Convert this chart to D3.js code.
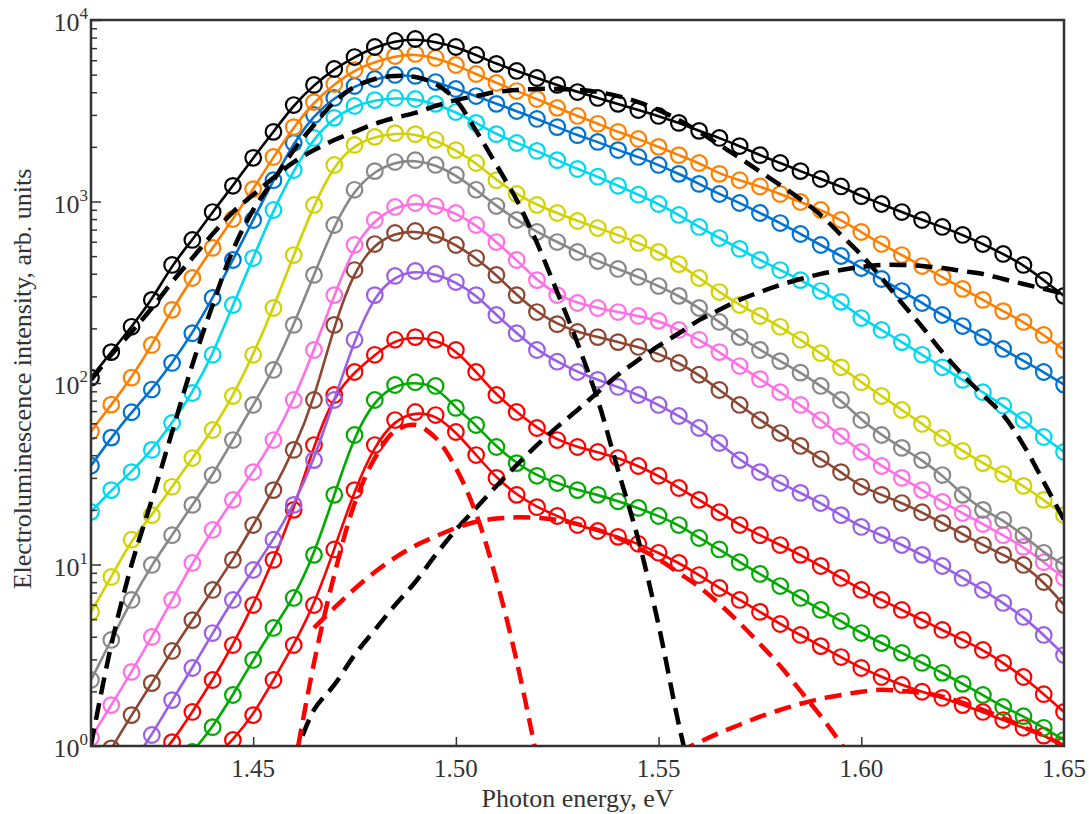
<!DOCTYPE html>
<html>
<head>
<meta charset="utf-8">
<script src="https://d3js.org/d3.v7.min.js"></script>
<style>
	body { margin: 0; background: #fff; }
	text { font-family: "Liberation Serif", "Times New Roman", serif; fill: #333; }
</style>
</head>
<body>
<svg id="chart" width="1089" height="814"></svg>
<script>
// Photon energy grid, eV
var energy = [1.410, 1.415, 1.420, 1.425, 1.430, 1.435, 1.440, 1.445, 1.450, 1.455,
	1.460, 1.465, 1.470, 1.475, 1.480, 1.485, 1.490, 1.495, 1.500, 1.505,
	1.510, 1.515, 1.520, 1.525, 1.530, 1.535, 1.540, 1.545, 1.550, 1.555,
	1.560, 1.565, 1.570, 1.575, 1.580, 1.585, 1.590, 1.595, 1.600, 1.605,
	1.610, 1.615, 1.620, 1.625, 1.630, 1.635, 1.640, 1.645, 1.650];

// Measured spectra (top to bottom)
var black = [107, 148, 204, 287, 447, 614, 875, 1220, 1740, 2420, 3400, 4390, 5370, 6250, 7100, 7660, 7860, 7570, 7100, 6420,
	5730, 5240, 4790, 4390, 4010, 3720, 3450, 3190, 2960, 2710, 2450, 2240, 2020, 1800, 1630, 1470, 1330, 1210, 1070, 969,
	875, 791, 724, 654, 583, 514, 447, 369, 302];
var orange = [54, 76, 107, 162, 253, 379, 555, 801, 1170, 1760, 2570, 3530, 4440, 5300, 5870, 6330, 6500, 6170, 5650, 5040,
	4500, 4060, 3670, 3280, 2960, 2680, 2420, 2210, 2000, 1800, 1630, 1420, 1310, 1210, 1100, 994, 898, 791, 679, 583,
	507, 441, 384, 330, 287, 249, 217, 184, 152];
var blue = [35, 50, 69, 92, 129, 188, 294, 476, 791, 1310, 2100, 3000, 3720, 4330, 4730, 4980, 4920, 4550, 4170, 3810,
	3450, 3150, 2850, 2570, 2320, 2130, 1920, 1760, 1590, 1420, 1250, 1100, 981, 864, 761, 662, 576, 501, 430, 374,
	321, 276, 237, 206, 179, 154, 132, 115, 98];
var cyan = [19.5, 25.7, 32.3, 42.8, 60.2, 88.1, 143, 269, 488, 898, 1490, 2240, 2890, 3360, 3620, 3720, 3670, 3450, 3110, 2710,
	2350, 2100, 1900, 1690, 1510, 1370, 1220, 1090, 969, 843, 724, 629, 548, 476, 419, 369, 321, 280, 228, 196,
	168, 143, 122, 104, 89, 75, 62.5, 50.4, 41.7];
var yellow = [5.48, 8.54, 13.7, 18.7, 26.8, 38.6, 55.1, 84.8, 143, 259, 507, 957, 1590, 2050, 2270, 2380, 2350, 2180, 1920, 1630,
	1310, 1100, 957, 864, 781, 714, 654, 591, 527, 452, 379, 317, 269, 234, 204, 173, 146, 122, 101, 84.8,
	71, 59.5, 49.8, 42.2, 36.2, 31.5, 27.1, 22.7, 18.7];
var gray = [2.31, 3.84, 6.38, 9.94, 14.5, 21.3, 31.1, 48.5, 75.7, 118, 209, 394, 742, 1160, 1470, 1650, 1690, 1590, 1400, 1160,
	944, 791, 679, 598, 527, 470, 425, 384, 342, 302, 259, 217, 179, 152, 132, 114, 96.3, 80.6, 62.5, 51.7,
	43.9, 37.6, 31.1, 24.2, 20, 17.6, 14.5, 11.6, 9.94];
var pink = [1.11, 1.68, 2.56, 3.99, 6.38, 10.2, 15.5, 22.7, 32.3, 48.5, 80.6, 152, 305, 576, 791, 933, 981, 944, 864, 742,
	598, 476, 369, 305, 276, 259, 246, 234, 220, 196, 173, 148, 124, 105, 89, 75.7, 62.5, 51.0, 41.7, 34.9,
	30.0, 25.7, 22.1, 19.2, 16.7, 14.5, 12.5, 10.3, 8.43];
var brown = [0.61, 0.97, 1.48, 2.22, 3.34, 4.94, 7.24, 10.6, 16.5, 25.7, 42.8, 80.6, 209, 419, 583, 671, 688, 654, 576, 488,
	394, 305, 246, 211, 191, 179, 168, 158, 145, 129, 111, 91.5, 75.7, 62.5, 53, 45, 38.1, 32.3, 26.8, 24.2,
	21.8, 19.4, 16.9, 14.7, 12.8, 11.3, 9.94, 8.01, 5.98];
var purple = [0.344, 0.537, 0.786, 1.15, 1.79, 2.69, 4.19, 6.38, 9.33, 13.7, 21.3, 37.6, 80.6, 173, 305, 389, 414, 399, 360, 305,
	237, 188, 152, 131, 115, 104, 95.1, 85.9, 75.7, 65.8, 56.5, 46.7, 37.6, 32.3, 28.1, 24.8, 21.8, 18.7, 16.1, 14.5,
	12.8, 11.3, 9.81, 8.43, 7.24, 6.14, 5.14, 4.09, 3.17];
var red1 = [0.303, 0.417, 0.573, 0.776, 1.05, 1.54, 2.31, 3.6, 5.98, 10.6, 20, 45.5, 85.9, 115, 143, 173, 179, 173, 152, 115,
	85.9, 69.2, 56.5, 48.5, 44.4, 41.7, 38.6, 34.9, 30.8, 26.4, 22.7, 19.4, 16.5, 14.5, 12.8, 11.3, 9.81, 8.43, 7.24, 6.38,
	5.62, 4.94, 4.36, 3.84, 3.38, 2.87, 2.4, 1.93, 1.54];
var green = [0.207, 0.267, 0.367, 0.504, 0.692, 0.927, 1.27, 1.91, 2.98, 4.47, 6.54, 11.3, 24.2, 51.7, 80.6, 97.5, 101, 96.3, 72.9, 58.7,
	44.4, 36.2, 30.8, 28.1, 25.7, 24.2, 22.3, 20.5, 18.5, 16.5, 14, 12.1, 10.3, 8.87, 7.61, 6.54, 5.62, 4.88, 4.19, 3.69,
	3.26, 2.87, 2.53, 2.2, 1.91, 1.64, 1.46, 1.26, 1.08];
var red2 = [0.142, 0.183, 0.235, 0.323, 0.444, 0.61, 0.837, 1.08, 1.48, 2.31, 3.6, 5.98, 12.1, 25.7, 45.5, 62.5, 69.2, 66.6, 53.7, 40.1,
	30, 24.2, 20.7, 18.5, 16.5, 15.3, 14.2, 13, 11.6, 10.2, 8.75, 7.42, 6.38, 5.48, 4.7, 4.09, 3.55, 3.09, 2.69, 2.4,
	2.17, 1.99, 1.84, 1.68, 1.54, 1.39, 1.26, 1.14, 1.01];

var seriesValues = [black, orange, blue, cyan, yellow, gray, pink, brown, purple, red1, green, red2];
var seriesColors = ["#000000", "#ff8000", "#0072d2", "#00d8f0", "#d2d200", "#888888",
	"#ff70e6", "#8c4632", "#9b5fe6", "#ff0000", "#00aa00", "#ff0000"];

// Gaussian components of the top (black) spectrum, start energy + values
var bd1Start = 1.41;
var bd1 = [1.01, 3.6, 9.94, 22.7, 53.7, 126, 269, 540, 898, 1310, 1920, 2640, 3530, 4280, 4730, 4920, 4850, 4440, 3620, 2450,
	1590, 1020, 591, 317, 166, 80.6, 33.1, 13.7, 4.64, 1.31, 0.444];
var bd2Start = 1.41;
var bd2 = [104, 143, 191, 259, 360, 488, 662, 875, 1090, 1350, 1650, 1920, 2180, 2420, 2680, 2890, 3080, 3360, 3620, 3810,
	4010, 4120, 4170, 4170, 4120, 4010, 3810, 3530, 3190, 2810, 2420, 2050, 1740, 1460, 1230, 1030, 843, 654, 507, 379,
	276, 204, 148, 111, 85.9, 66.6, 45.5, 28.5, 17.6];
var bd3Start = 1.46;
var bd3 = [0.837, 1.58, 2.17, 3.17, 4.36, 5.98, 8.01, 11.3, 15.5, 20.5, 27.1, 35.3, 45.5, 57.3, 71, 89, 111, 134, 160, 188,
	222, 253, 287, 317, 347, 374, 399, 419, 436, 447, 447, 441, 430, 414, 399, 374, 351, 330, 310];

// Gaussian components of the bottom (red) spectrum
var rd1Start = 1.46;
var rd1 = [0.728, 2.87, 8.75, 21.6, 38.6, 54.4, 58.7, 49.8, 34, 19, 8.22, 2.94, 0.859];
var rd2Start = 1.465;
var rd2 = [4.47, 5.76, 7.33, 9.09, 10.9, 12.7, 14.3, 15.9, 17.2, 17.9, 18.2, 18.1, 17.6, 16.7, 15.5, 14, 12.3, 10.7, 8.98, 7.52,
	6.06, 4.76, 3.65, 2.76, 2.01, 1.46, 1.03, 0.7];
var rd3Start = 1.555;
var rd3 = [0.927, 1.05, 1.18, 1.31, 1.45, 1.58, 1.71, 1.82, 1.91, 1.99, 2.04, 2.01, 1.96, 1.87, 1.73, 1.58, 1.43, 1.27, 1.14, 1.0];

var xTicks = [1.45, 1.50, 1.55, 1.60, 1.65];
var yTicks = [1, 10, 100, 1000, 10000];

var svg = d3.select("#chart");
var plotLeft = 91, plotRight = 1064, plotTop = 20, plotBottom = 746;

var x = d3.scaleLinear().domain([1.41, 1.65]).range([plotLeft, plotRight]);
var y = d3.scaleLog().domain([1, 10000]).range([plotBottom, plotTop]);

svg.append("defs").append("clipPath")
	.attr("id", "plotclip")
	.append("rect")
	.attr("x", plotLeft)
	.attr("y", plotTop)
	.attr("width", plotRight - plotLeft)
	.attr("height", plotBottom - plotTop);

var plot = svg.append("g").attr("clip-path", "url(#plotclip)");

var fitLine = d3.line()
	.x(function(d) { return x(d[0]); })
	.y(function(d) { return y(d[1]); })
	.curve(d3.curveBasis);

var dashLine = d3.line()
	.x(function(d) { return x(d[0]); })
	.y(function(d) { return y(d[1]); })
	.curve(d3.curveCatmullRom);

function pairs(values, start) {
	var k = Math.round((start - energy[0]) / 0.005);
	return values.map(function(v, i) { return [energy[k + i], v]; });
}

// Spectra: bottom curve first so the upper ones sit on top
for (var i = seriesValues.length - 1; i >= 0; i--) {
	var pts = pairs(seriesValues[i], 1.41);
	var g = plot.append("g");

	g.append("path")
		.datum(pts)
		.attr("d", fitLine)
		.attr("fill", "none")
		.attr("stroke", seriesColors[i])
		.attr("stroke-width", 2.6);

	g.selectAll("circle")
		.data(pts)
		.enter().append("circle")
		.attr("cx", function(d) { return x(d[0]); })
		.attr("cy", function(d) { return y(d[1]); })
		.attr("r", 7.8)
		.attr("fill", "none")
		.attr("stroke", seriesColors[i])
		.attr("stroke-width", 2.2);
}

// Dashed decompositions
var dashed = [
	[bd1, bd1Start, "#000000"], [bd2, bd2Start, "#000000"], [bd3, bd3Start, "#000000"],
	[rd1, rd1Start, "#ff0000"], [rd2, rd2Start, "#ff0000"], [rd3, rd3Start, "#ff0000"]
];
dashed.forEach(function(c) {
	plot.append("path")
		.datum(pairs(c[0], c[1]))
		.attr("d", dashLine)
		.attr("fill", "none")
		.attr("stroke", c[2])
		.attr("stroke-width", 4.5)
		.attr("stroke-dasharray", "17,9");
});

// Frame
svg.append("rect")
	.attr("x", plotLeft)
	.attr("y", plotTop)
	.attr("width", plotRight - plotLeft)
	.attr("height", plotBottom - plotTop)
	.attr("fill", "none")
	.attr("stroke", "#333")
	.attr("stroke-width", 2.5);

// Y ticks (inside), major + minor
var minor = [];
[1, 10, 100, 1000].forEach(function(d) {
	for (var m = 2; m <= 9; m++) minor.push(d * m);
});

var yAxisMajor = svg.append("g")
	.attr("transform", "translate(" + plotLeft + ",0)")
	.call(d3.axisRight(y).tickValues(yTicks).tickSize(10).tickFormat(""));
var yAxisMinor = svg.append("g")
	.attr("transform", "translate(" + plotLeft + ",0)")
	.call(d3.axisRight(y).tickValues(minor).tickSize(6).tickFormat(""));

var xAxis = svg.append("g")
	.attr("transform", "translate(0," + plotBottom + ")")
	.call(d3.axisTop(x).tickValues(xTicks.slice(0, 4)).tickSize(9).tickFormat(""));

[yAxisMajor, yAxisMinor, xAxis].forEach(function(a) {
	a.select(".domain").remove();
	a.selectAll("line").attr("stroke", "#333").attr("stroke-width", 1.5);
});

// Y tick labels 10^n
yTicks.forEach(function(v) {
	var t = svg.append("text")
		.attr("x", 88)
		.attr("y", y(v) + 11)
		.attr("text-anchor", "end")
		.style("font-size", "26px");
	t.append("tspan").text("10");
	t.append("tspan")
		.attr("dy", -12)
		.style("font-size", "17px")
		.text(Math.round(Math.log10(v)));
});

// X tick labels
svg.selectAll(".xlabel")
	.data(xTicks)
	.enter().append("text")
	.attr("class", "xlabel")
	.attr("x", function(d) { return x(d); })
	.attr("y", 777)
	.attr("text-anchor", "middle")
	.style("font-size", "25px")
	.text(function(d) { return d.toFixed(2); });

// Axis titles
svg.append("text")
	.attr("x", (plotLeft + plotRight) / 2)
	.attr("y", 807)
	.attr("text-anchor", "middle")
	.style("font-size", "26px")
	.text("Photon energy, eV");

svg.append("text")
	.attr("transform", "translate(31," + ((plotTop + plotBottom) / 2 - 4) + ") rotate(-90)")
	.attr("text-anchor", "middle")
	.style("font-size", "26px")
	.text("Electroluminescence intensity, arb. units");
</script>
</body>
</html>
